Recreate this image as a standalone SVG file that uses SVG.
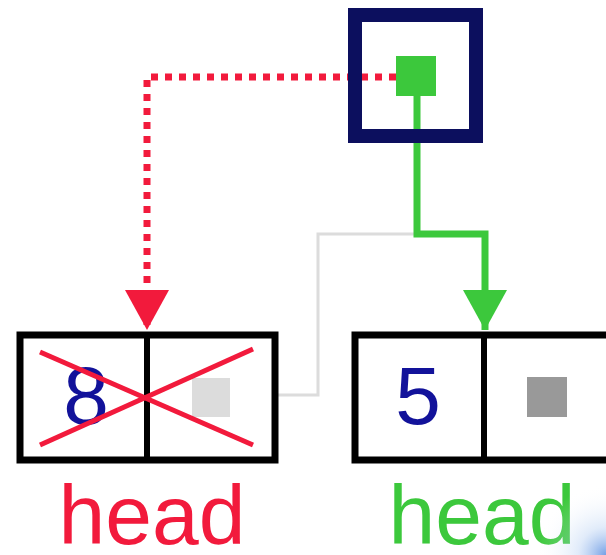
<svg xmlns="http://www.w3.org/2000/svg" width="606" height="555" viewBox="0 0 606 555">
  <style>
    .box { fill: #ffffff; stroke: #000000; stroke-width: 7; }
    .num { font-family: "Liberation Sans", Arial, sans-serif; font-size: 82px; fill: #12129a; }
    .lbl { font-family: "Liberation Sans", Arial, sans-serif; font-size: 84px; }
  </style>
  <defs>
    <marker id="arrRed" markerUnits="userSpaceOnUse" markerWidth="44" markerHeight="42" refX="22" refY="40" orient="0" viewBox="0 0 44 42">
      <path d="M0,0 L44,0 L22,40 Z" fill="#f21a3c"/>
    </marker>
    <marker id="arrGreen" markerUnits="userSpaceOnUse" markerWidth="44" markerHeight="42" refX="22" refY="40" orient="0" viewBox="0 0 44 42">
      <path d="M0,0 L44,0 L22,40 Z" fill="#3cc83c"/>
    </marker>
    <radialGradient id="glow" cx="606" cy="555" r="70" gradientUnits="userSpaceOnUse">
      <stop offset="0" stop-color="#5a8ee0" stop-opacity="0.85"/>
      <stop offset="0.4" stop-color="#a8c6f0" stop-opacity="0.35"/>
      <stop offset="1" stop-color="#ffffff" stop-opacity="0"/>
    </radialGradient>
  </defs>

  <rect width="606" height="555" fill="#ffffff"/>

  <!-- connectors -->
  <g id="connectors" fill="none">
    <!-- old next link of the removed node -->
    <polyline points="230,395 318,395 318,234 414,234" stroke="#dcdcdc" stroke-width="3"/>
    <!-- old head pointer (dotted) -->
    <polyline points="396,77 147,77 147,330" stroke="#f21a3c" stroke-width="7" stroke-dasharray="7,7" marker-end="url(#arrRed)"/>
    <!-- new head pointer -->
    <polyline points="417,95 417,234 485,234 485,330" stroke="#3cc83c" stroke-width="7" marker-end="url(#arrGreen)"/>
    <!-- continuation from node 5 -->
    <line x1="567" y1="396" x2="606" y2="396" stroke="#dcdcdc" stroke-width="3"/>
  </g>

  <!-- head pointer cell -->
  <g id="head-cell">
    <rect x="355" y="15" width="121" height="121" fill="none" stroke="#0c0f5e" stroke-width="14"/>
    <rect x="396" y="56" width="40" height="40" fill="#3cc83c"/>
  </g>

  <!-- removed node (value 8) -->
  <g id="node-8">
    <rect class="box" x="20" y="335" width="255" height="125"/>
    <line x1="147" y1="335" x2="147" y2="460" stroke="#000" stroke-width="6"/>
    <text class="num" x="86" y="424" text-anchor="middle">8</text>
    <rect x="192" y="378" width="38" height="39" fill="#dcdcdc"/>
    <line x1="40" y1="352" x2="253" y2="445" stroke="#f21a3c" stroke-width="5"/>
    <line x1="40" y1="445" x2="253" y2="349" stroke="#f21a3c" stroke-width="5"/>
  </g>

  <!-- node with value 5 -->
  <g id="node-5">
    <rect class="box" x="355" y="335" width="270" height="125"/>
    <line x1="484" y1="335" x2="484" y2="460" stroke="#000" stroke-width="6"/>
    <text class="num" x="418" y="424" text-anchor="middle">5</text>
    <rect x="527" y="377" width="40" height="40" fill="#999999"/>
  </g>

  <!-- labels -->
  <g id="label-old">
    <text class="lbl" x="152" y="544" text-anchor="middle" fill="#f21a3c">head</text>
  </g>
  <g id="label-new">
    <text class="lbl" x="482" y="544" text-anchor="middle" fill="#3cc83c">head</text>
  </g>

  <rect x="520" y="470" width="86" height="85" fill="url(#glow)"/>
</svg>
